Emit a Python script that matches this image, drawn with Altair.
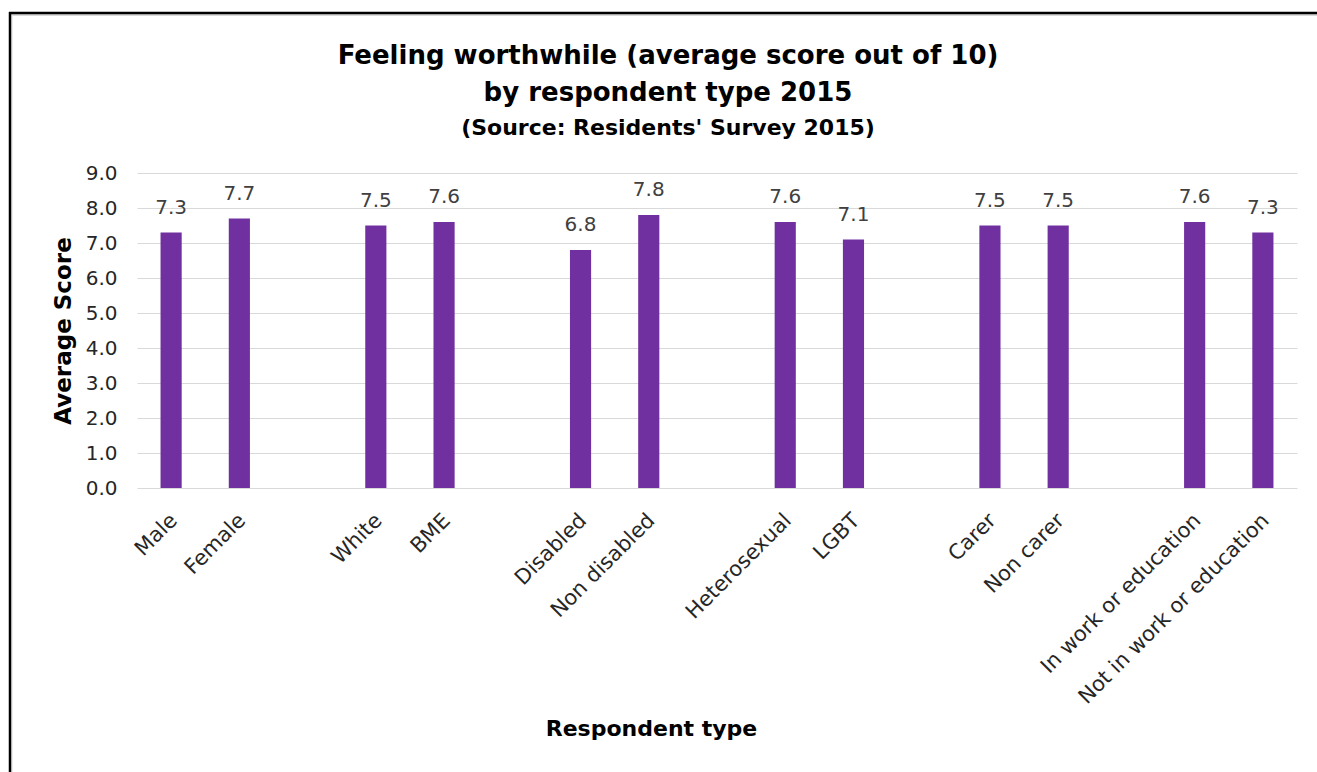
import altair as alt
import pandas as pd

# Respondent groups, in pairs, with their average "feeling worthwhile" score
categories = [
    "Male", "Female",
    "White", "BME",
    "Disabled", "Non disabled",
    "Heterosexual", "LGBT",
    "Carer", "Non carer",
    "In work or education", "Not in work or education",
]
scores = [7.3, 7.7, 7.5, 7.6, 6.8, 7.8, 7.6, 7.1, 7.5, 7.5, 7.6, 7.3]
y_ticks = [0, 1, 2, 3, 4, 5, 6, 7, 8, 9]

# Axis order: each pair followed by an empty slot (blank labels) to separate groups
x_domain = []
for i in range(0, len(categories), 2):
    x_domain += categories[i:i + 2]
    if i + 2 < len(categories):
        x_domain.append(" " * (i // 2 + 1))

df = pd.DataFrame({"category": categories, "score": scores})

FONT = "DejaVu Sans"
PURPLE = "#7030A0"
W, H = 1160, 315
PAD = {"left": 137, "top": 173, "right": 20, "bottom": 284}

x_enc = alt.X(
    "category:N",
    sort=None,
    scale=alt.Scale(domain=x_domain, paddingInner=0.69, paddingOuter=0.345),
    axis=alt.Axis(
        title="Respondent type",
        labelAngle=-45,
        labelAlign="right",
        labelBaseline="middle",
        labelFont=FONT,
        labelFontSize=21,
        labelColor="#262626",
        labelPadding=29,
        labelOffset=3,
        labelLimit=0,
        labelOverlap=False,
        domain=False,
        ticks=False,
        grid=False,
        titleFont=FONT,
        titleFontSize=22,
        titleFontWeight="bold",
        titleColor="black",
        titleX=514,
        titleY=247,
        titleAlign="center",
        titleBaseline="alphabetic",
    ),
)
y_enc = alt.Y(
    "score:Q",
    scale=alt.Scale(domain=[0, 9], nice=False, zero=True),
    axis=alt.Axis(
        title="Average Score",
        values=y_ticks,
        format=".1f",
        labelFont=FONT,
        labelFontSize=20,
        labelColor="#262626",
        labelPadding=20,
        labelOverlap=False,
        domain=False,
        ticks=False,
        grid=True,
        gridColor="#d9d9d9",
        gridWidth=1,
        titleFont=FONT,
        titleFontSize=23,
        titleFontWeight="bold",
        titleColor="black",
        titlePadding=10,
    ),
)

base = alt.Chart(df).encode(x=x_enc, y=y_enc)

bars = base.mark_bar(color=PURPLE)

value_labels = base.mark_text(
    font=FONT, fontSize=20, color="#404040", baseline="alphabetic", dy=-19
).encode(text=alt.Text("score:Q", format=".1f"))

# Outer frame: dark top and left edges with a light inner shadow
frame = alt.Data(values=[{}])
top_edge = alt.Chart(frame).mark_rule(color="black", strokeWidth=2.5).encode(
    x=alt.value(9 - PAD["left"]), x2=alt.value(1317 - PAD["left"]),
    y=alt.value(13 - PAD["top"]),
)
left_edge = alt.Chart(frame).mark_rule(color="black", strokeWidth=2.5).encode(
    x=alt.value(10 - PAD["left"]),
    y=alt.value(12 - PAD["top"]), y2=alt.value(772 - PAD["top"]),
)
top_shadow = alt.Chart(frame).mark_rule(color="#d9d9d9", strokeWidth=2).encode(
    x=alt.value(11 - PAD["left"]), x2=alt.value(1317 - PAD["left"]),
    y=alt.value(15 - PAD["top"]),
)
left_shadow = alt.Chart(frame).mark_rule(color="#e6e6e6", strokeWidth=1.5).encode(
    x=alt.value(12 - PAD["left"]),
    y=alt.value(15 - PAD["top"]), y2=alt.value(772 - PAD["top"]),
)

chart = alt.layer(
    bars, value_labels, top_shadow, left_shadow, top_edge, left_edge
).properties(
    width=W,
    height=H,
    padding=PAD,
    autosize=alt.AutoSizeParams(type="none"),
    background="white",
    title=alt.TitleParams(
        text=["Feeling worthwhile (average score out of 10)", "by respondent type 2015"],
        subtitle="(Source: Residents' Survey 2015)",
        font=FONT,
        fontSize=26,
        fontWeight="bold",
        color="black",
        lineHeight=37,
        subtitleFont=FONT,
        subtitleFontSize=22,
        subtitleFontWeight="bold",
        subtitleColor="black",
        subtitlePadding=12,
        anchor="middle",
        frame="group",
        dx=-49,
        offset=-128,
    ),
).configure_view(stroke=None)

chart.save("out.html", embed_options={"renderer": "svg", "actions": False})
